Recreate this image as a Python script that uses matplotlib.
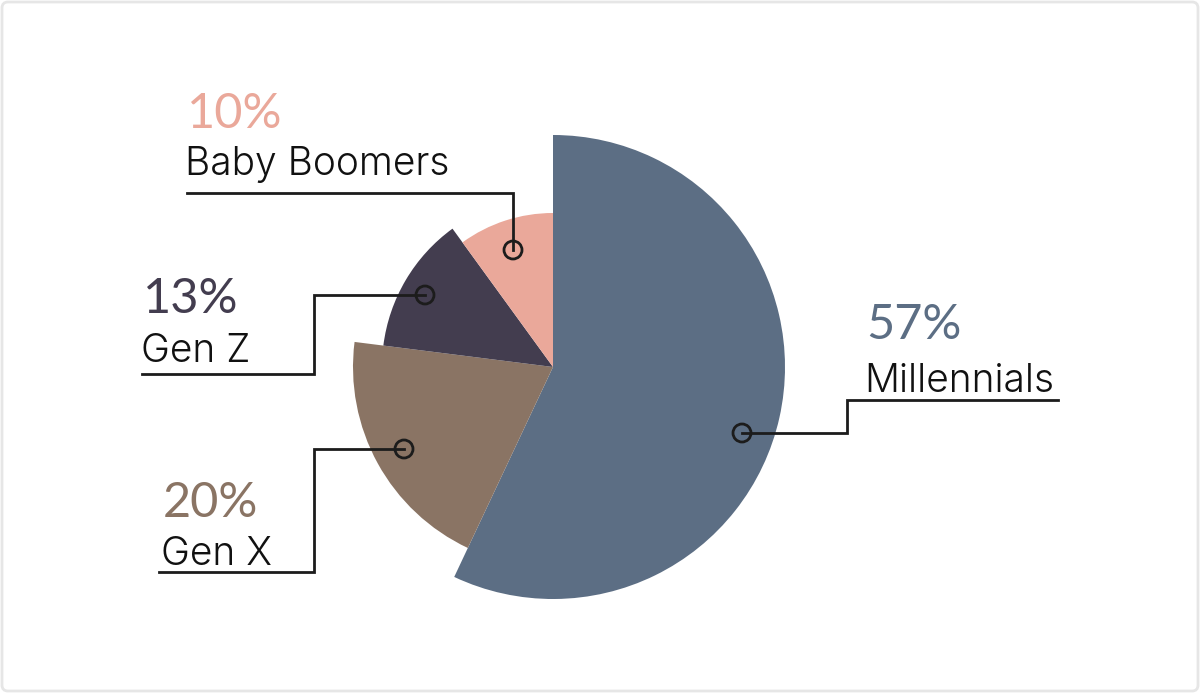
import matplotlib.pyplot as plt
from matplotlib.patches import Wedge, Circle, FancyBboxPatch

# data
generations = ['Millennials', 'Gen X', 'Gen Z', 'Baby Boomers']
shares = [57, 20, 13, 10]
colors = ['#5c6e84', '#8a7464', '#433d4f', '#eaa89a']

# layout (pixel space, y grows downwards)
cx, cy = 553, 367
radii = [232, 200, 171, 154]
leaders = {
    'Millennials': [(742, 433), (847, 433), (847, 400), (1058, 400)],
    'Gen X': [(404, 449), (314, 449), (314, 572), (159, 572)],
    'Gen Z': [(425, 295), (314, 295), (314, 374), (142, 374)],
    'Baby Boomers': [(513, 250), (513, 193), (187, 193)],
}
# (x, percent baseline, name baseline)
label_pos = {
    'Millennials': (864, 339, 392),
    'Gen X': (161, 517, 565),
    'Gen Z': (141, 313, 362),
    'Baby Boomers': (185, 128, 175),
}

fig = plt.figure(figsize=(12, 6.93), dpi=100)
ax = fig.add_axes([0, 0, 1, 1])
ax.set_xlim(0, 1200)
ax.set_ylim(693, 0)
ax.set_aspect('equal')
ax.axis('off')

# light frame around the card
ax.add_patch(FancyBboxPatch((2, 2), 1196, 689, boxstyle='round,pad=0,rounding_size=6',
                            fc='white', ec='#e6e6e6', lw=2))

# wedges, clockwise from 12 o'clock (y axis inverted, so angles are negated)
start = 90.0
for name, val, col, r in zip(generations, shares, colors, radii):
    sweep = val / sum(shares) * 360
    end = start - sweep
    ax.add_patch(Wedge((cx, cy), r, -start, -end, fc=col, ec='none'))
    start = end

for name, val, col in zip(generations, shares, colors):
    pts = leaders[name]
    xs = [p[0] for p in pts]
    ys = [p[1] for p in pts]
    ax.plot(xs, ys, color='#1c1c1c', lw=2, solid_joinstyle='miter', zorder=3)
    ax.add_patch(Circle(pts[0], 9, fc='none', ec='#1c1c1c', lw=2, zorder=4))
    x, yp, yn = label_pos[name]
    ax.text(x + 2, yp, f'{val}%', color=col, fontsize=35, family='Lato',
            fontweight='normal', va='baseline', ha='left')
    ax.text(x, yn, name, color='#111111', fontsize=28, family='Inter',
            fontweight=300, va='baseline', ha='left')

fig.savefig('out.png', dpi=100, facecolor='white')
